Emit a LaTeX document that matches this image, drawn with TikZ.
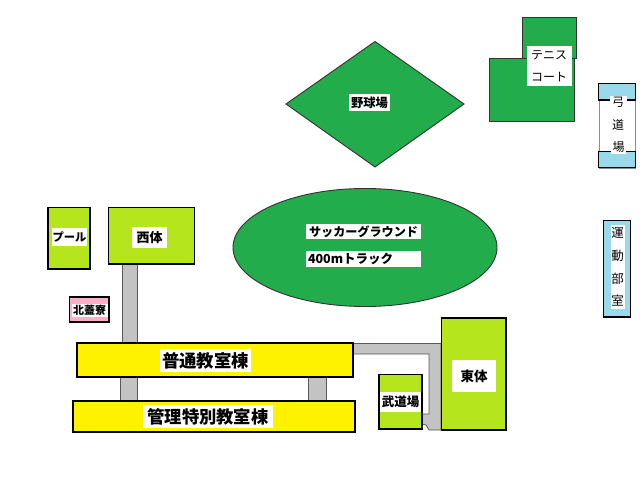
\documentclass[tikz,border=0pt]{standalone}
\usepackage{fontspec}
\newfontfamily\cjk{Noto Sans CJK JP}
\definecolor{field}{RGB}{34,172,76}
\definecolor{gym}{RGB}{181,230,29}
\definecolor{school}{RGB}{255,242,0}
\definecolor{walk}{RGB}{195,195,195}
\definecolor{aqua}{RGB}{153,217,234}
\definecolor{rose}{RGB}{255,174,201}
\tikzset{
  x=1pt,y=-1pt,
  outline/.style={draw=black,line width=1.7pt},
  thin outline/.style={draw=black!80,line width=0.9pt},
  passage/.style={fill=walk,draw=black!65,line width=0.8pt},
  tag/.style={fill=white,inner sep=0pt,text=black,anchor=center},
}
\begin{document}
\begin{tikzpicture}
\useasboundingbox (0,0) rectangle (640,495);
\fill[white] (0,0) rectangle (640,495);

% Tennis courts
\fill[field,thin outline] (522.5,17) rectangle (576,58);
\fill[field,thin outline] (489.5,58) rectangle (574.5,121);
\node[tag,minimum width=45pt,minimum height=40pt,align=center,font=\cjk\fontsize{12}{22}\selectfont] (tennis) at (549,66) {テニス\\コート};

% Archery hall
\draw[draw=black!45,line width=0.7pt] (599,83) rectangle (635,168);
\fill[aqua,outline] (598.5,83.5) rectangle (635.5,100);
\fill[aqua,outline] (598.5,151.5) rectangle (635.5,167.5);
\node[tag,minimum width=17pt,minimum height=13pt,font=\cjk\fontsize{12}{12}\selectfont] (kyu) at (618,102) {弓};
\node[tag,font=\cjk\fontsize{12}{12}\selectfont] (do) at (618,124.5) {道};
\node[tag,minimum width=15pt,minimum height=14pt,font=\cjk\fontsize{12}{12}\selectfont] (jo) at (618.5,147) {場};

% Baseball diamond
\fill[field,thin outline] (375,41.5) -- (464,104) -- (375,167) -- (286,104) -- cycle;
\node[tag,minimum width=41pt,minimum height=17pt,font=\cjk\bfseries\fontsize{12.3}{12.3}\selectfont] (baseball) at (369.5,102.5) {野球場};

% Football ground and running track
\fill[field,thin outline] (365,247.5) ellipse [x radius=132,y radius=59];
\node[tag,minimum width=115pt,minimum height=15pt,font=\cjk\fontsize{12.1}{12.1}\selectfont\bfseries] (soccer) at (363.5,231.5) {サッカーグラウンド};
\node[tag,minimum width=115pt,minimum height=16pt,text width=111pt,align=left,font=\cjk\fontsize{12.5}{12.5}\selectfont\bfseries] (track) at (363.5,259) {400mトラック};

% Covered walkways
\fill[passage] (122,264) rectangle (137,343);
\fill[passage] (120,377) rectangle (137,401);
\fill[passage] (308,377) rectangle (326,401);
\fill[passage] (353,343.5) -- (441,343.5) -- (441,430) -- (429,430) -- (426,425) -- (422,424) -- (422,414) -- (429,414) -- (429,354) -- (353,354) -- cycle;

% Swimming pool and west gymnasium
\fill[gym,outline] (48,207.5) rectangle (90,269);
\node[tag,minimum width=35pt,minimum height=18pt,font=\cjk\bfseries\fontsize{11.3}{11.3}\selectfont] (pool) at (69.5,237) {プール};
\fill[gym,outline] (108.5,207.5) rectangle (194.5,264);
\node[tag,minimum width=35pt,minimum height=21pt,font=\cjk\bfseries\fontsize{13}{13}\selectfont] (westgym) at (149.5,237.5) {西体};

% Dormitory
\fill[rose,outline] (69.5,297) rectangle (109,322);
\node[tag,minimum width=36pt,minimum height=13pt,font=\cjk\bfseries\fontsize{11}{11}\selectfont] (dorm) at (89.5,310.5) {北蓋寮};

% Classroom blocks
\fill[school,outline] (77,343) rectangle (353,377);
\node[tag,minimum width=91pt,minimum height=23pt,font=\cjk\bfseries\fontsize{17.4}{17.4}\selectfont] (classroom) at (205.5,360.5) {普通教室棟};
\fill[school,outline] (73,401) rectangle (355,432);
\node[tag,minimum width=130pt,minimum height=23pt,font=\cjk\bfseries\fontsize{17.3}{17.3}\selectfont] (special) at (208,416.5) {管理特別教室棟};

% East gymnasium
\fill[gym,outline] (441.5,318) rectangle (506,430);
\node[tag,minimum width=44pt,minimum height=32pt,font=\cjk\bfseries\fontsize{13.5}{13.5}\selectfont] (eastgym) at (474,376) {東体};

% Martial arts hall
\fill[gym,outline] (379,374.5) rectangle (422,429);
\node[tag,minimum width=41pt,minimum height=20pt,font=\cjk\bfseries\fontsize{12.5}{12.5}\selectfont] (budo) at (400.5,402) {武道場};

% Club rooms
\fill[aqua,outline] (603.5,220.5) rectangle (630.5,317);
\node[tag,minimum width=14pt,minimum height=84pt,text width=14pt,align=center,font=\cjk\fontsize{12.5}{22.7}\selectfont] (clubs) at (617.5,267) {運\\動\\部\\室};
\end{tikzpicture}
\end{document}
